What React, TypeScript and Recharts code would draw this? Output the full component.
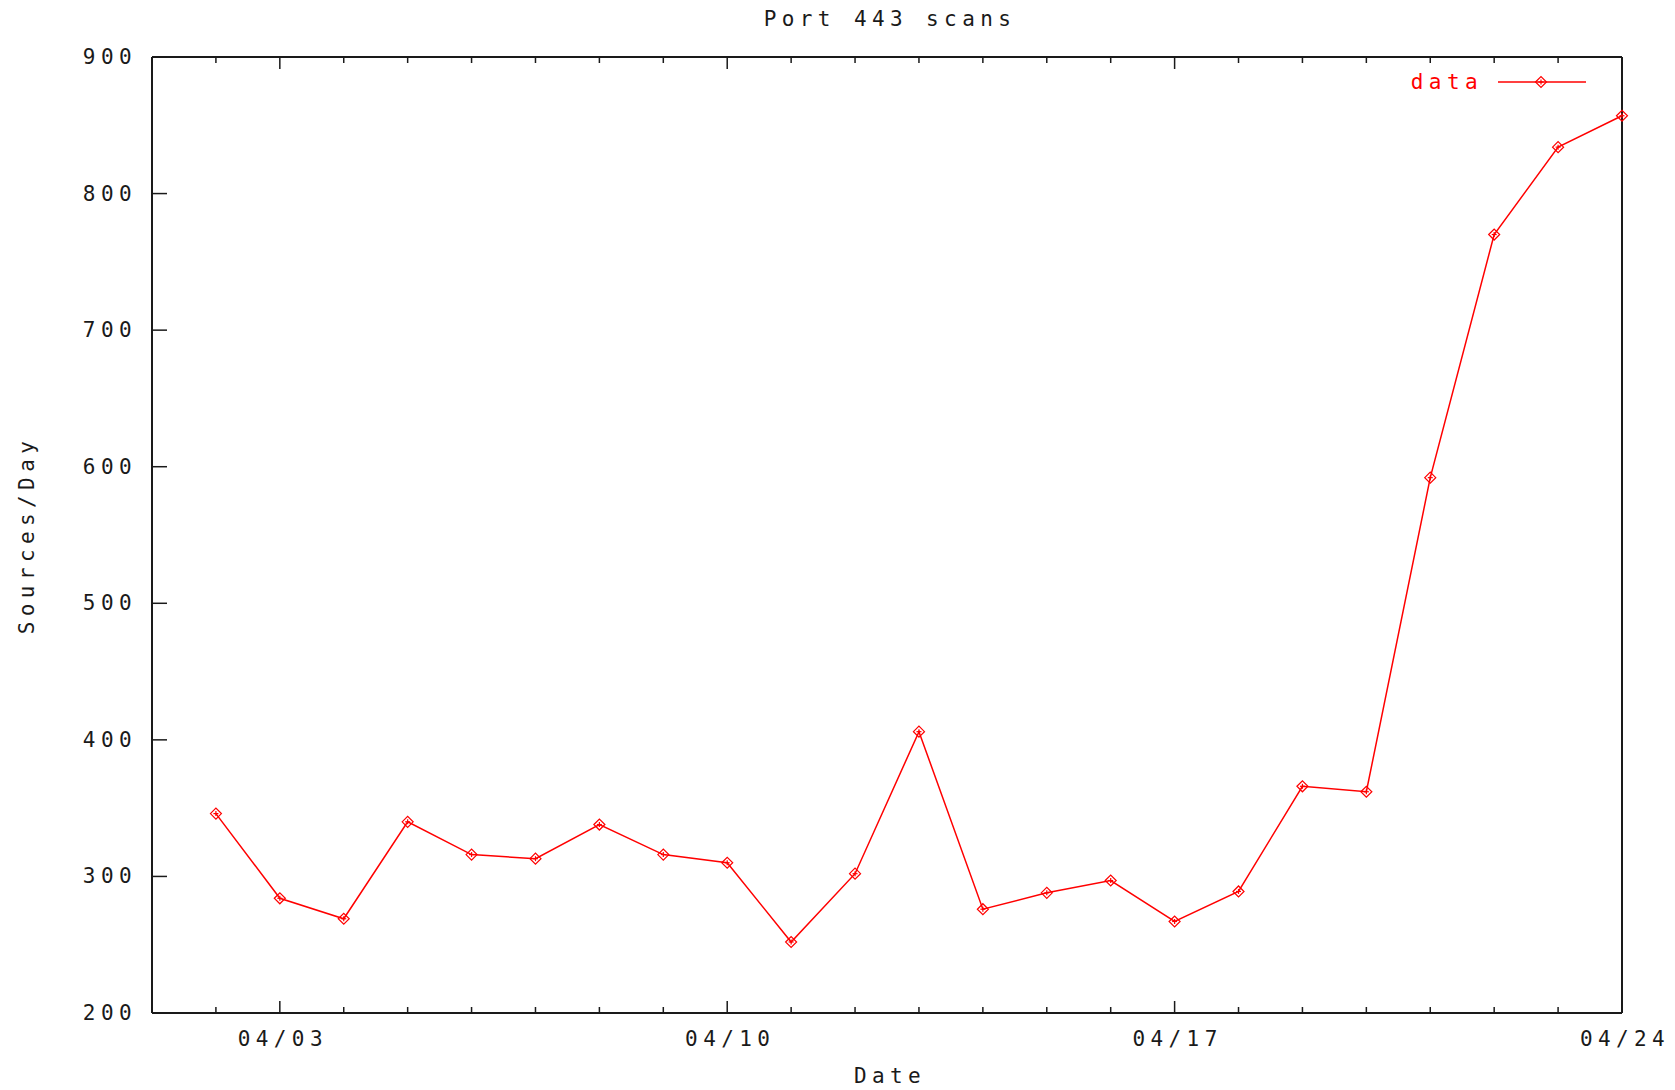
import { Label, Legend, Line, LineChart, XAxis, YAxis } from "recharts";

// Port 443 scans, sources per day
const dates = [
  "04/02", "04/03", "04/04", "04/05", "04/06", "04/07", "04/08", "04/09",
  "04/10", "04/11", "04/12", "04/13", "04/14", "04/15", "04/16", "04/17",
  "04/18", "04/19", "04/20", "04/21", "04/22", "04/23", "04/24",
];
const sources = [
  346, 284, 269, 340, 316, 313, 338, 316,
  310, 252, 302, 406, 276, 288, 297, 267,
  289, 366, 362, 592, 770, 834, 857,
];
const majorDates = ["04/03", "04/10", "04/17", "04/24"];
const yTicks = [200, 300, 400, 500, 600, 700, 800, 900];
const firstDay = 1;
const lastDay = 24;

const FONT = "'DejaVu Sans Mono', monospace";
const RED = "#ff0000";
const INK = "#1a1a1a";
const textStyle = { fontFamily: FONT, fontSize: 21, letterSpacing: 5.4 };

const dayOf = (date: string) => Number(date.slice(3));
const data = dates.map((date, i) => ({ date, day: dayOf(date), sources: sources[i] }));
const dayTicks = Array.from({ length: lastDay - firstDay + 1 }, (_, i) => firstDay + i);
const labelFor = (day: number) => majorDates.find((d) => dayOf(d) === day);

function Diamond({ cx, cy, color = RED }: { cx: number; cy: number; color?: string }) {
  const r = 5.5;
  return (
    <g stroke={color} strokeWidth={1.2} fill="none">
      <path d={`M${cx - r},${cy} L${cx},${cy - r} L${cx + r},${cy} L${cx},${cy + r} Z`} />
      <line x1={cx - 2.5} x2={cx + 2.5} y1={cy} y2={cy} />
      <line x1={cx} x2={cx} y1={cy - 2.5} y2={cy + 2.5} />
    </g>
  );
}

function BottomTick({ x, y, payload }: any) {
  const label = labelFor(payload.value);
  const len = label ? 11 : 5;
  const base = y - 1;
  return (
    <g>
      <line x1={x} x2={x} y1={base} y2={base - len} stroke={INK} strokeWidth={1.5} />
      {label && (
        <text x={x + 3} y={base + 27} textAnchor="middle" dominantBaseline="central" fill={INK} style={textStyle}>
          {label}
        </text>
      )}
    </g>
  );
}

function TopTick({ x, y, payload }: any) {
  const len = labelFor(payload.value) ? 11 : 5;
  const base = y + 1;
  return <line x1={x} x2={x} y1={base} y2={base + len} stroke={INK} strokeWidth={1.5} />;
}

function LeftTick({ x, y, payload }: any) {
  const base = x + 1;
  return (
    <g>
      <line x1={base} x2={base + 14} y1={y} y2={y} stroke={INK} strokeWidth={1.5} />
      <text x={base - 16} y={y} textAnchor="end" dominantBaseline="central" fill={INK} style={textStyle}>
        {payload.value}
      </text>
    </g>
  );
}

function RightTick({ x, y }: any) {
  const base = x - 1;
  return <line x1={base} x2={base - 14} y1={y} y2={y} stroke={INK} strokeWidth={1.5} />;
}

function DataLegend() {
  return (
    <svg width={200} height={30}>
      <text x={83} y={15} textAnchor="end" dominantBaseline="central" fill={RED} style={textStyle}>
        data
      </text>
      <line x1={98} x2={186} y1={15} y2={15} stroke={RED} strokeWidth={1.5} />
      <Diamond cx={141} cy={15} />
    </svg>
  );
}

const axisLine = { stroke: INK, strokeWidth: 2 };

export default function App() {
  return (
    <div style={{ position: "absolute", top: 0, left: 0, background: "#fff" }}>
      <LineChart width={1675} height={1090} data={data} margin={{ top: 56, right: 52, bottom: 76, left: 151 }}>
        <XAxis
          xAxisId="bottom"
          dataKey="day"
          type="number"
          domain={[firstDay, lastDay]}
          ticks={dayTicks}
          interval={0}
          height={1}
          tickSize={0}
          tickMargin={0}
          tickLine={false}
          axisLine={axisLine}
          tick={BottomTick}
        >
          <Label
            content={({ viewBox }: any) => (
              <text
                x={(viewBox?.x ?? 152) + (viewBox?.width ?? 1470) / 2 + 3}
                y={(viewBox?.y ?? 1013) + 63}
                textAnchor="middle"
                dominantBaseline="central"
                fill={INK}
                style={textStyle}
              >
                Date
              </text>
            )}
          />
        </XAxis>
        <XAxis
          xAxisId="top"
          orientation="top"
          dataKey="day"
          type="number"
          domain={[firstDay, lastDay]}
          ticks={dayTicks}
          interval={0}
          height={1}
          tickSize={0}
          tickMargin={0}
          tickLine={false}
          axisLine={axisLine}
          tick={TopTick}
        >
          <Label
            content={({ viewBox }: any) => (
              <text
                x={(viewBox?.x ?? 152) + (viewBox?.width ?? 1470) / 2 + 3}
                y={(viewBox?.y ?? 57) - 37}
                textAnchor="middle"
                dominantBaseline="central"
                fill={INK}
                style={textStyle}
              >
                Port 443 scans
              </text>
            )}
          />
        </XAxis>
        <YAxis
          yAxisId="left"
          type="number"
          domain={[200, 900]}
          ticks={yTicks}
          interval={0}
          width={1}
          tickSize={0}
          tickMargin={0}
          tickLine={false}
          axisLine={axisLine}
          tick={LeftTick}
        >
          <Label
            content={({ viewBox }: any) => {
              const x = (viewBox?.x ?? 152) - 124;
              const y = (viewBox?.y ?? 57) + (viewBox?.height ?? 956) / 2;
              return (
                <text
                  x={x}
                  y={y}
                  transform={`rotate(-90, ${x}, ${y})`}
                  textAnchor="middle"
                  dominantBaseline="central"
                  fill={INK}
                  style={textStyle}
                >
                  Sources/Day
                </text>
              );
            }}
          />
        </YAxis>
        <YAxis
          yAxisId="right"
          orientation="right"
          type="number"
          domain={[200, 900]}
          ticks={yTicks}
          interval={0}
          width={1}
          tickSize={0}
          tickMargin={0}
          tickLine={false}
          axisLine={axisLine}
          tick={RightTick}
        />
        <Legend
          layout="horizontal"
          align="center"
          verticalAlign="middle"
          content={DataLegend}
          wrapperStyle={{ left: 1400, top: 67, width: 200, height: 30 }}
        />
        <Line
          xAxisId="bottom"
          yAxisId="left"
          type="linear"
          dataKey="sources"
          name="data"
          stroke={RED}
          strokeWidth={1.5}
          isAnimationActive={false}
          activeDot={false}
          dot={(props: any) => <Diamond key={props.index} cx={props.cx} cy={props.cy} />}
        />
      </LineChart>
    </div>
  );
}
